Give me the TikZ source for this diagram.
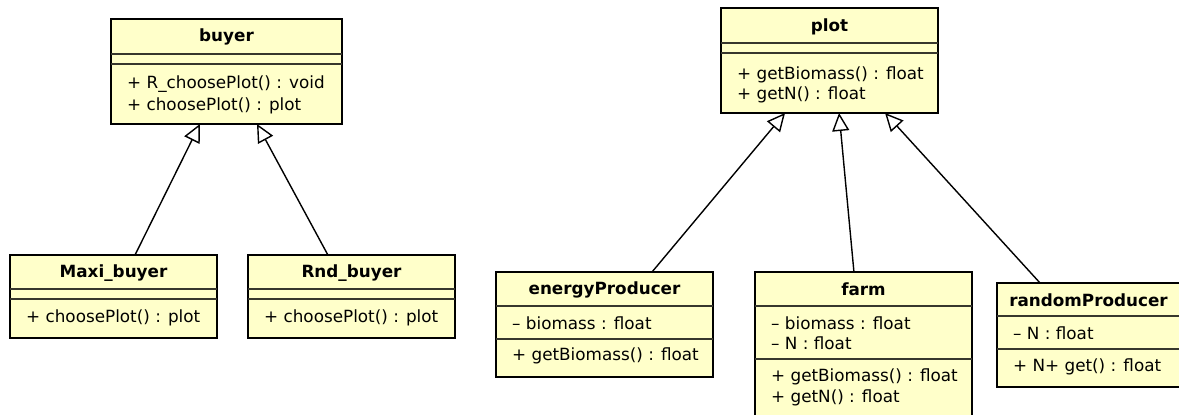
\documentclass[tikz,border=0pt]{standalone}
\usepackage{fontspec}
\setmainfont{DejaVu Sans}
\usetikzlibrary{arrows.meta,calc}
\definecolor{classfill}{RGB}{255,255,202}
\definecolor{sepline}{RGB}{55,55,45}

\begin{document}
\begin{tikzpicture}[x=1pt,y=-1pt,
  classbox/.style={draw=black, line width=2.8pt, fill=classfill, anchor=north west,
                   inner sep=0pt, outer sep=0pt},
  classname/.style={font=\fontsize{16.8}{20}\selectfont\bfseries, anchor=center, inner sep=0pt},
  member/.style={font=\fontsize{16.8}{20}\selectfont, anchor=west, inner sep=0pt},
  compsep/.style={draw=sepline, line width=1.4pt},
  generalization/.style={draw=black, line width=1.4pt,
                         -{Triangle[length=18pt,width=17pt,fill=white]}}]

\useasboundingbox (0,0) rectangle (1179,415);

% ---------- class boxes ----------
\node[classbox, minimum width=231pt, minimum height=105pt] (buyer) at (111,19) {};
\node[classbox, minimum width=207pt, minimum height=83pt]  (maxi)  at (10,255) {};
\node[classbox, minimum width=207pt, minimum height=83pt]  (rnd)   at (248,255) {};
\node[classbox, minimum width=217pt, minimum height=105pt] (plot)  at (721,8) {};
\node[classbox, minimum width=217pt, minimum height=105pt] (energy) at (496,272) {};
\node[classbox, minimum width=217pt, minimum height=146pt] (farm)  at (755,272) {};
\node[classbox, minimum width=193pt, minimum height=104pt] (random) at (997,283) {};

% ---------- compartment separators ----------
\foreach \c/\a/\b in {buyer/35/45, maxi/34/44, rnd/34/44, plot/35/45,
                      energy/34/67, farm/34/87, random/33/66}{
  \draw[compsep] ([yshift=-\a pt]\c.north west) -- ([yshift=-\a pt]\c.north east);
  \draw[compsep] ([yshift=-\b pt]\c.north west) -- ([yshift=-\b pt]\c.north east);
}

% ---------- class names ----------
\node[classname] (buyerT)  at ([yshift=-18pt]buyer.north)  {buyer};
\node[classname] (maxiT)   at ([yshift=-18pt]maxi.north)   {Maxi\_buyer};
\node[classname] (rndT)    at ([yshift=-18pt]rnd.north)    {Rnd\_buyer};
\node[classname] (plotT)   at ([yshift=-19pt]plot.north)   {plot};
\node[classname] (energyT) at ([yshift=-18pt]energy.north) {energyProducer};
\node[classname] (farmT)   at ([yshift=-17pt]farm.north)   {farm};
\node[classname] (randomT) at ([shift={(-5pt,-17pt)}]random.north) {randomProducer};

% ---------- members ----------
\node[member] (buyerM1) at ([shift={(16pt,-65pt)}]buyer.north west) {+ R\_choosePlot() : void};
\node[member] (buyerM2) at ([shift={(16pt,-87pt)}]buyer.north west) {+ choosePlot() : plot};
\node[member] (maxiM1)  at ([shift={(16pt,-63pt)}]maxi.north west)  {+ choosePlot() : plot};
\node[member] (rndM1)   at ([shift={(16pt,-63pt)}]rnd.north west)   {+ choosePlot() : plot};
\node[member] (plotM1)  at ([shift={(16pt,-67pt)}]plot.north west)  {+ getBiomass() : float};
\node[member] (plotM2)  at ([shift={(16pt,-87pt)}]plot.north west)  {+ getN() : float};
\node[member] (energyA1) at ([shift={(16pt,-51pt)}]energy.north west) {– biomass : float};
\node[member] (energyM1) at ([shift={(16pt,-84pt)}]energy.north west) {+ getBiomass() : float};
\node[member] (farmA1)  at ([shift={(16pt,-51pt)}]farm.north west)  {– biomass : float};
\node[member] (farmA2)  at ([shift={(16pt,-71pt)}]farm.north west)  {– N : float};
\node[member] (farmM1)  at ([shift={(16pt,-105pt)}]farm.north west) {+ getBiomass() : float};
\node[member] (farmM2)  at ([shift={(16pt,-126pt)}]farm.north west) {+ getN() : float};
\node[member] (randomA1) at ([shift={(16pt,-50pt)}]random.north west) {– N : float};
\node[member] (randomM1) at ([shift={(16pt,-84pt)}]random.north west) {+ N+ get() : float};

% ---------- generalizations ----------
\draw[generalization] ($(maxi.north west)!0.604!(maxi.north east)$)
  -- ($(buyer.south west)!0.385!(buyer.south east)$);
\draw[generalization] ($(rnd.north west)!0.386!(rnd.north east)$)
  -- ($(buyer.south west)!0.632!(buyer.south east)$);
\draw[generalization] ($(energy.north west)!0.719!(energy.north east)$)
  -- ($(plot.south west)!0.295!(plot.south east)$);
\draw[generalization] ($(farm.north west)!0.456!(farm.north east)$)
  -- ($(plot.south west)!0.544!(plot.south east)$);
\draw[generalization] ($(random.north west)!0.223!(random.north east)$)
  -- ($(plot.south west)!0.756!(plot.south east)$);
\end{tikzpicture}
\end{document}
